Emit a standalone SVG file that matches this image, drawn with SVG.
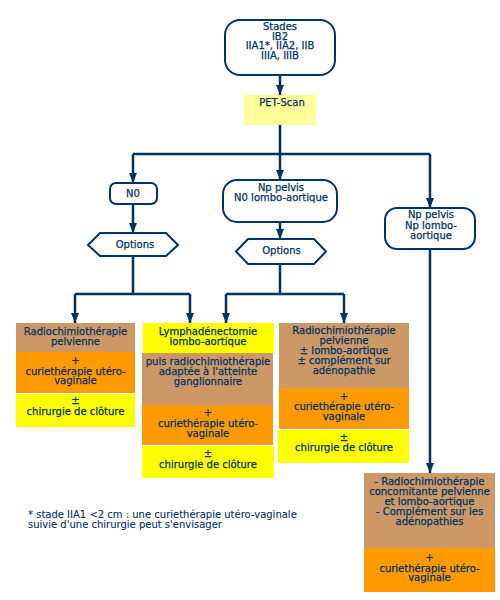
<svg xmlns="http://www.w3.org/2000/svg" width="500" height="600" viewBox="0 0 500 600">
<defs>
<marker id="ah" markerWidth="10" markerHeight="8" refX="10" refY="4" orient="auto" markerUnits="userSpaceOnUse">
<path d="M0,0 L10,4 L0,8 Z" fill="#003366"/>
</marker>
</defs>
<style>
text{font-family:"DejaVu Sans",Verdana,sans-serif;font-size:10px;fill:#003366;stroke:#003366;stroke-width:0.25;text-anchor:middle}
.node{fill:#fff;stroke:#003366;stroke-width:2}
.conn{fill:none;stroke:#003366;stroke-width:2.5}
.arr{marker-end:url(#ah)}
.tan{fill:#CC9966}
.org{fill:#FF9900}
.yel{fill:#FFFF00}
.note{text-anchor:start;font-size:10px;stroke-width:0.1}
</style>
<rect width="500" height="600" fill="#fff"/>
<g id="connectors">
<path class="conn arr" d="M280,75 V95"/>
<path class="conn" d="M280,125 V154 M133,154 H430"/>
<path class="conn arr" d="M133,154 V183"/>
<path class="conn arr" d="M280,154 V180"/>
<path class="conn arr" d="M430,154 V208"/>
<path class="conn arr" d="M133,204 V233"/>
<path class="conn arr" d="M280,222 V239"/>
<path class="conn" d="M133,256 V294 M75,294 H190"/>
<path class="conn arr" d="M75,294 V323"/>
<path class="conn arr" d="M190,294 V323"/>
<path class="conn" d="M280,264 V294 M226,294 H344"/>
<path class="conn arr" d="M226,294 V323"/>
<path class="conn arr" d="M344,294 V323"/>
<path class="conn arr" d="M430,249 V473"/>
</g>
<g id="stades">
<rect class="node" x="225" y="20" width="110" height="55" rx="15"/>
<text x="280" y="30">Stades</text>
<text x="280" y="39.5">IB2</text>
<text x="280" y="49">IIA1*, IIA2, IIB</text>
<text x="280" y="58.5">IIIA, IIIB</text>
</g>
<g id="pet">
<rect x="244" y="95" width="72" height="30" fill="#FFFF99"/>
<text x="282" y="106">PET-Scan</text>
</g>
<g id="n0">
<rect class="node" x="110" y="183" width="47" height="21" rx="6"/>
<text x="133" y="196.5">N0</text>
</g>
<g id="np-n0">
<rect class="node" x="223" y="180" width="114" height="42" rx="14"/>
<text x="281" y="191">Np pelvis</text>
<text x="281" y="201">N0 lombo-aortique</text>
</g>
<g id="np-np">
<rect class="node" x="385" y="208" width="90" height="41" rx="12"/>
<text x="431" y="218">Np pelvis</text>
<text x="431" y="228.5">Np lombo-</text>
<text x="431" y="238.5">aortique</text>
</g>
<g id="options1">
<polygon class="node" points="100,233 166,233 178,245 166,256 100,256 88,245"/>
<text x="135" y="247.5">Options</text>
</g>
<g id="options2">
<polygon class="node" points="248,239 314,239 326,251.5 314,264 248,264 236,251.5"/>
<text x="281.5" y="253.5">Options</text>
</g>
<g id="box1">
<rect class="tan" x="16" y="323" width="119" height="29"/>
<rect class="org" x="16" y="352" width="119" height="41"/>
<rect class="yel" x="16" y="394" width="119" height="33"/>
<text x="75.5" y="335">Radiochimiothérapie</text>
<text x="75.5" y="345">pelvienne</text>
<text x="75.5" y="364">+</text>
<text x="75.5" y="374.5">curiethérapie utéro-</text>
<text x="75.5" y="384">vaginale</text>
<text x="75.5" y="404">±</text>
<text x="75.5" y="415">chirurgie de clôture</text>
</g>
<g id="box2">
<rect class="yel" x="143" y="323" width="131" height="30"/>
<rect class="tan" x="142" y="353" width="131" height="52"/>
<rect class="org" x="142" y="405" width="131" height="40"/>
<rect class="yel" x="142" y="446" width="132" height="32"/>
<text x="208" y="335">Lymphadénectomie</text>
<text x="208" y="345">lombo-aortique</text>
<text x="208" y="365">puis radiochimiothérapie</text>
<text x="208" y="375">adaptée à l'atteinte</text>
<text x="208" y="384.5">ganglionnaire</text>
<text x="208" y="416">+</text>
<text x="208" y="427">curiethérapie utéro-</text>
<text x="208" y="437">vaginale</text>
<text x="208" y="457">±</text>
<text x="208" y="468">chirurgie de clôture</text>
</g>
<g id="box3">
<rect class="tan" x="279" y="323" width="130" height="65"/>
<rect class="org" x="279" y="388" width="130" height="41"/>
<rect class="yel" x="278" y="430" width="131" height="33"/>
<text x="344" y="334">Radiochimiothérapie</text>
<text x="344" y="344">pelvienne</text>
<text x="344" y="354">± lombo-aortique</text>
<text x="344" y="364">± complément sur</text>
<text x="344" y="374">adénopathie</text>
<text x="344" y="399.5">+</text>
<text x="344" y="410">curiethérapie utéro-</text>
<text x="344" y="420">vaginale</text>
<text x="344" y="441">±</text>
<text x="344" y="451">chirurgie de clôture</text>
</g>
<g id="box4">
<rect class="tan" x="364" y="473" width="131" height="75"/>
<rect class="org" x="364" y="548" width="131" height="44"/>
<text x="429.5" y="485">- Radiochimiothérapie</text>
<text x="429.5" y="495">concomitante pelvienne</text>
<text x="429.5" y="505">et lombo-aortique</text>
<text x="429.5" y="515">- Complément sur les</text>
<text x="429.5" y="524.5">adénopathies</text>
<text x="429.5" y="561">+</text>
<text x="429.5" y="571.5">curiethérapie utéro-</text>
<text x="429.5" y="581">vaginale</text>
</g>
<g id="footnote">
<text class="note" x="28" y="518">* stade IIA1 &lt;2 cm : une curiethérapie utéro-vaginale</text>
<text class="note" x="28" y="528">suivie d'une chirurgie peut s'envisager</text>
</g>
</svg>
